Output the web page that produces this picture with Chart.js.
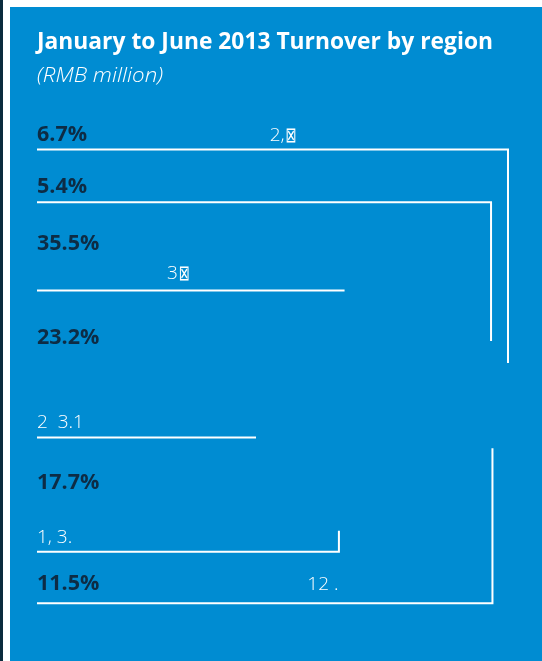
<!DOCTYPE html>
<html>
<head>
<meta charset="utf-8">
<script src="https://cdn.jsdelivr.net/npm/chart.js@4/dist/chart.umd.min.js"></script>
<style>
  html, body { margin: 0; padding: 0; background: #fff; }
  #wrap { width: 542px; height: 661px; }
</style>
</head>
<body>
<div id="wrap"><canvas id="chart" width="542" height="661"></canvas></div>
<script>
// share of turnover per region, Jan-Jun 2013
const shareLabels = ['6.7%', '5.4%', '35.5%', '23.2%', '17.7%', '11.5%'];
const shares = [6.7, 5.4, 35.5, 23.2, 17.7, 11.5];

// length of each leader line (% of panel width)
const leaderLength = [100, 96.4, 65.3, 46.5, 64.1, 96.7];

// turnover figures only survive as fragments in the source
const turnoverText = ['2,', '', '3', '2  3.1', '1, 3.', '12 .'];

const titleText = 'January to June 2013 Turnover by region';
const unitText = '(RMB million)';

// layout of the rows (y in 0-100 panel units, top down)
const rows = {
  lineY:     [7.75, 18.1, 35.4, 64.2, 86.6, 96.7],
  labelY:    [6.1, 16.3, 27.5, 45.9, 74.3, 94.1],
  bracketTo: [49.6, 45.3, null, null, 82.5, 66.3],
  textX:     [49.4, null, 27.6, 0, 0, 57.4],
  textY:     [6.1, null, 33.1, 62.4, 84.9, 94.1],
  boxAfter:  [true, false, true, false, false, false]
};

const datasets = shares.map((s, i) => {
  const yv = rows.lineY[i];
  const pts = [{ x: 0, y: yv }, { x: leaderLength[i], y: yv }];
  if (rows.bracketTo[i] != null) pts.push({ x: leaderLength[i], y: rows.bracketTo[i] });
  return {
    label: shareLabels[i],
    data: pts,
    showLine: true,
    borderColor: '#ffffff',
    borderWidth: 2,
    borderJoinStyle: 'miter',
    pointRadius: 0,
    clip: false
  };
});

// draw text fitted sideways to a target width (source face differs a bit)
function fitText(ctx, text, px, py, font, target) {
  ctx.font = font;
  const w = ctx.measureText(text).width;
  const sx = target / w;
  ctx.save();
  ctx.translate(px, py);
  ctx.scale(sx, 1);
  ctx.fillText(text, 0, 0);
  ctx.restore();
}

const panel = {
  id: 'panel',
  beforeDraw(chart) {
    const { ctx, width, height } = chart;
    ctx.save();
    ctx.fillStyle = '#ffffff';
    ctx.fillRect(0, 0, width, height);
    ctx.fillStyle = '#0a2b3d';
    ctx.fillRect(0, 0, 3, height);
    ctx.fillStyle = '#008cd2';
    ctx.fillRect(10, 7, width - 10, height - 7);
    ctx.restore();
  },
  afterDatasetsDraw(chart) {
    const { ctx } = chart;
    const x = chart.scales.x, y = chart.scales.y;
    ctx.save();
    ctx.textAlign = 'left';
    ctx.textBaseline = 'alphabetic';

    // title + unit
    ctx.fillStyle = '#ffffff';
    fitText(ctx, titleText, 37, 49, 'bold 22.5px "Open Sans"', 456);
    fitText(ctx, unitText, 37, 82, 'italic 300 20.5px "Open Sans"', 126);

    // share labels
    ctx.fillStyle = '#0d2c45';
    ctx.font = 'bold 21.5px "Open Sans"';
    shareLabels.forEach((t, i) => {
      ctx.fillText(t, x.getPixelForValue(0), y.getPixelForValue(rows.labelY[i]));
    });

    // leftover turnover text
    ctx.fillStyle = '#ffffff';
    turnoverText.forEach((t, i) => {
      if (!t) return;
      ctx.font = '300 19px "Open Sans"';
      const px = x.getPixelForValue(rows.textX[i]);
      const py = y.getPixelForValue(rows.textY[i]);
      ctx.fillText(t, px, py);
      if (rows.boxAfter[i]) {
        const w = ctx.measureText(t).width;
        fitText(ctx, '\u22A0', px + w + 1, py + 1, '21px "DejaVu Sans"', 11);
      }
    });
    ctx.restore();
  }
};

new Chart(document.getElementById('chart').getContext('2d'), {
  type: 'scatter',
  data: { datasets: datasets },
  options: {
    responsive: false,
    animation: false,
    layout: { padding: { left: 37, right: 34, top: 110, bottom: 41 } },
    scales: {
      x: { type: 'linear', min: 0, max: 100, display: false },
      y: { type: 'linear', min: 0, max: 100, reverse: true, display: false }
    },
    plugins: {
      legend: { display: false },
      tooltip: { enabled: false }
    }
  },
  plugins: [panel]
});
</script>
</body>
</html>
